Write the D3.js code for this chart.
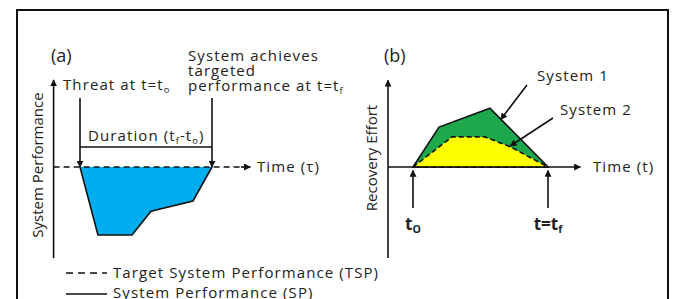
<!DOCTYPE html>
<html>
<head>
<meta charset="utf-8">
<script src="https://cdn.jsdelivr.net/npm/d3@7"></script>
<style>
  body { margin: 0; background: #fff; }
  svg text { font-family: "Open Sans", "Noto Sans", sans-serif; fill: #222; }
  svg text.lbl { letter-spacing: 1.1px; }
</style>
</head>
<body>
<script>
// (a) system performance drop, t0 = 0 .. tf = 10
var perfTime  = [0, 10, 8.56, 5.38, 3.94, 1.36];
var perfValue = [0, 0, -50, -65, -100, -100];

// (b) recovery effort curves
var sys1Time   = [0, 1.93, 5.70, 10];
var sys1Effort = [0, 57, 84, 0];
var sys2Time   = [0, 2.89, 5.33, 7.19, 10];
var sys2Effort = [0, 43, 43, 29, 0];

var legendLabels = ["Target System Performance (TSP)", "System Performance (SP)"];

var W = 673, H = 299;
var svg = d3.select("body").append("svg")
    .attr("width", W).attr("height", H);

var defs = svg.append("defs");
defs.append("marker")
    .attr("id", "arr")
    .attr("viewBox", "0 0 10 10")
    .attr("refX", 9).attr("refY", 5)
    .attr("markerWidth", 7).attr("markerHeight", 7)
    .attr("markerUnits", "userSpaceOnUse")
    .attr("orient", "auto")
  .append("path")
    .attr("d", "M0,0L10,5L0,10z")
    .attr("fill", "#111");

// frame
svg.append("rect")
    .attr("x", 17).attr("y", 10)
    .attr("width", 651).attr("height", 300)
    .attr("fill", "none").attr("stroke", "#111").attr("stroke-width", 2);

function seg(g, x1, y1, x2, y2, opts) {
  opts = opts || {};
  var l = g.append("line")
      .attr("x1", x1).attr("y1", y1).attr("x2", x2).attr("y2", y2)
      .attr("stroke", "#111").attr("stroke-width", opts.w || 1.6);
  if (opts.dash) l.attr("stroke-dasharray", opts.dash);
  if (opts.arrow) l.attr("marker-end", "url(#arr)");
  return l;
}

function label(g, x, y, txt, size) {
  return g.append("text").attr("class", "lbl")
      .attr("x", x).attr("y", y).attr("font-size", size || 15).text(txt);
}

function subText(g, x, y, parts, size, anchor, weight) {
  var t = g.append("text").attr("x", x).attr("y", y)
      .attr("font-size", size).attr("text-anchor", anchor || "start");
  if (!weight) t.attr("class", "lbl");
  else t.attr("font-weight", weight);
  parts.forEach(function(p) {
    var s = t.append("tspan").text(p[0]);
    if (p[1]) s.attr("font-size", size * 0.62).attr("dy", 3);
    if (p[2]) s.attr("dy", -3);
  });
  return t;
}

// ---------- panel (a) ----------
var xA = d3.scaleLinear().domain([0, 10]).range([80, 212]);
var yA = d3.scaleLinear().domain([-100, 0]).range([235, 167]);
var gA = svg.append("g");

var perfPts = perfTime.map(function(t, i) { return [xA(t), yA(perfValue[i])]; });
gA.append("path")
    .attr("d", d3.line()(perfPts) + "Z")
    .attr("fill", "#00AEEF");
gA.append("path")
    .attr("d", d3.line()(perfPts.slice(1).concat([perfPts[0]])))
    .attr("fill", "none").attr("stroke", "#111").attr("stroke-width", 1.6);

// axes
seg(gA, xA(-2), yA(-134), xA(-2), yA(128), {arrow: true});
seg(gA, xA(-2), yA(0), xA(12.9), yA(0), {dash: "6,4"});
seg(gA, xA(12.2), yA(0), xA(12.9), yA(0), {arrow: true});

// threat / target arrows
seg(gA, xA(0), 98, xA(0), yA(0), {arrow: true});
seg(gA, xA(10), 98, xA(10), yA(0), {arrow: true});
seg(gA, xA(0), 147, xA(10), 147, {});

gA.append("text").attr("x", 51).attr("y", 62).attr("font-size", 18).text("(a)");
subText(gA, 63, 90, [["Threat at t=t"], ["o", true]], 15);
label(gA, 188, 61, "System achieves");
label(gA, 188, 76, "targeted");
subText(gA, 188, 91, [["performance at t=t"], ["f", true]], 15);
subText(gA, 88, 141, [["Duration  (t"], ["f", true], ["-t", false, true], ["o", true], [")", false, true]], 15);
label(gA, 257, 172, "Time  (τ)");
gA.append("text")
    .attr("transform", "translate(43,165) rotate(-90)")
    .attr("text-anchor", "middle").attr("font-size", 15)
    .text("System Performance");

// ---------- panel (b) ----------
var xB = d3.scaleLinear().domain([0, 10]).range([413, 548]);
var yB = d3.scaleLinear().domain([0, 100]).range([167, 97]);
var gB = svg.append("g");

var line = d3.line()
    .x(function(d) { return xB(d[0]); })
    .y(function(d) { return yB(d[1]); });
var sys1 = sys1Time.map(function(t, i) { return [t, sys1Effort[i]]; });
var sys2 = sys2Time.map(function(t, i) { return [t, sys2Effort[i]]; });

gB.append("path").attr("d", line(sys1) + "Z")
    .attr("fill", "#1DA84B").attr("stroke", "#111").attr("stroke-width", 1.6);
gB.append("path").attr("d", line(sys2) + "Z")
    .attr("fill", "#FFFF00").attr("stroke", "#111").attr("stroke-width", 1.6)
    .attr("stroke-dasharray", "5,3");

seg(gB, xB(-1.85), yB(-130), xB(-1.85), yB(124), {arrow: true});
seg(gB, xB(-1.85), yB(0), xB(12.4), yB(0), {arrow: true});

seg(gB, xB(0), 208, xB(0), yB(-5), {arrow: true});
seg(gB, xB(10), 208, xB(10), yB(-5), {arrow: true});

// system pointer arrows
seg(gB, 527, 85, xB(6.5), yB(68), {arrow: true});
seg(gB, 553, 118, xB(7.2), yB(30), {arrow: true});

gB.append("text").attr("x", 384).attr("y", 62).attr("font-size", 18).text("(b)");
label(gB, 537, 81, "System 1");
label(gB, 560, 115, "System 2");
label(gB, 593, 172, "Time (t)");
subText(gB, xB(0), 230, [["t"], ["O", true]], 17, "middle", "bold");
subText(gB, xB(10), 230, [["t=t"], ["f", true]], 17, "middle", "bold");
gB.append("text")
    .attr("transform", "translate(377,158) rotate(-90)")
    .attr("text-anchor", "middle").attr("font-size", 15)
    .text("Recovery Effort");

// ---------- legend ----------
var gL = svg.append("g");
seg(gL, 66, 273, 107, 273, {dash: "7,5"});
seg(gL, 66, 294, 107, 294, {});
gL.selectAll("text.leg").data(legendLabels).enter().append("text")
    .attr("class", "leg lbl")
    .attr("x", 113)
    .attr("y", function(d, i) { return 278 + i * 20; })
    .attr("font-size", 15)
    .text(function(d) { return d; });
</script>
</body>
</html>
